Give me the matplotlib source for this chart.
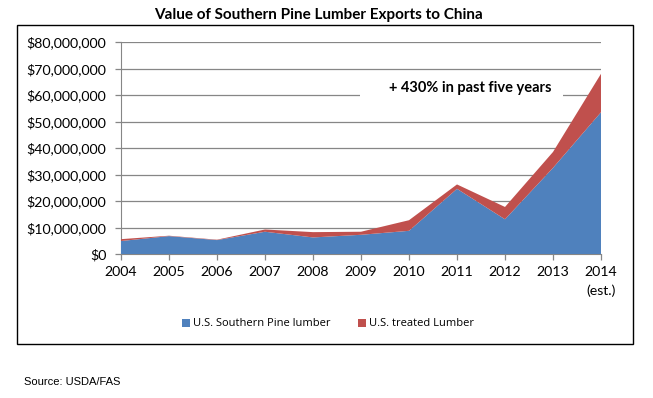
import matplotlib.pyplot as plt
from matplotlib.patches import Patch, Rectangle
from matplotlib.ticker import FuncFormatter, MultipleLocator

years = [2004, 2005, 2006, 2007, 2008, 2009, 2010, 2011, 2012, 2013, 2014]
year_labels = ['2004', '2005', '2006', '2007', '2008', '2009', '2010',
               '2011', '2012', '2013', '2014\n(est.)']
# values in US dollars
pine = [4.9e6, 6.75e6, 5.25e6, 8.4e6, 6.25e6, 7.25e6, 8.75e6,
        24.6e6, 13.1e6, 32.5e6, 53.5e6]
treated = [0.7e6, 0.15e6, 0.15e6, 0.85e6, 2.0e6, 1.15e6, 4.0e6,
           1.65e6, 4.65e6, 6.0e6, 14.5e6]
series_names = ['U.S. Southern Pine lumber', 'U.S. treated Lumber']
colors = ['#4F81BD', '#C0504D']

W, H = 653, 398
fig = plt.figure(figsize=(W / 100, H / 100), dpi=100)

# outer chart border
fig.patches.append(Rectangle((17 / W, 1 - 344 / H), 616 / W, 319 / H,
                             transform=fig.transFigure, fill=False,
                             edgecolor='black', linewidth=1.0))

ax = fig.add_axes([121 / W, 1 - 254 / H, 480 / W, 212 / H])
ax.stackplot(years, pine, treated, colors=colors, linewidth=0, zorder=3)

ax.set_xlim(2004, 2014)
ax.set_ylim(0, 80e6)
ax.yaxis.set_major_locator(MultipleLocator(10e6))
ax.yaxis.set_major_formatter(FuncFormatter(lambda v, p: '${:,.0f}'.format(v)))
ax.set_xticks(years)
ax.set_xticklabels(year_labels, fontfamily='Lato', fontsize=10.2,
                   linespacing=1.65)
for lab in ax.get_yticklabels():
    lab.set_fontfamily('Lato')
    lab.set_fontsize(10.2)

ax.grid(axis='y', color='#868686', linewidth=0.9, zorder=0)
ax.set_axisbelow(True)
for s in ['top', 'right']:
    ax.spines[s].set_visible(False)
ax.spines['left'].set_color('#868686')
ax.spines['bottom'].set_color('#868686')
ax.tick_params(axis='both', color='#868686', length=4, width=0.9)
ax.tick_params(axis='y', pad=6.5)
ax.tick_params(axis='x', pad=4.5)

# annotation with white box breaking the gridline
ax.add_patch(Rectangle(((360 - 121) / 480, (254 - 102) / 212), 203 / 480, 24 / 212,
                       transform=ax.transAxes, facecolor='white',
                       edgecolor='none', zorder=2))
ax.text((470 - 121) / 480, (254 - 88) / 212, '+ 430% in past five years',
        transform=ax.transAxes, ha='center', va='center', fontfamily='Lato',
        fontweight='bold', fontsize=10.5, zorder=4)

fig.text(318 / W, 1 - 15 / H, 'Value of Southern Pine Lumber Exports to China',
         ha='center', va='center', fontfamily='Lato', fontweight='bold',
         fontsize=11)

handles = [Patch(facecolor=c, edgecolor='none') for c in colors]
fig.legend(handles, series_names, loc='center', ncol=2,
           bbox_to_anchor=(328 / W, 1 - 324 / H), frameon=False,
           prop={'family': 'Open Sans', 'size': 8},
           handlelength=0.7, handleheight=0.7, handletextpad=0.3,
           columnspacing=2.5)

fig.text(24 / W, 1 - 382 / H, 'Source: USDA/FAS', ha='left', va='center',
         fontfamily='Liberation Sans', fontsize=8)

fig.savefig('out.png', dpi=100)
